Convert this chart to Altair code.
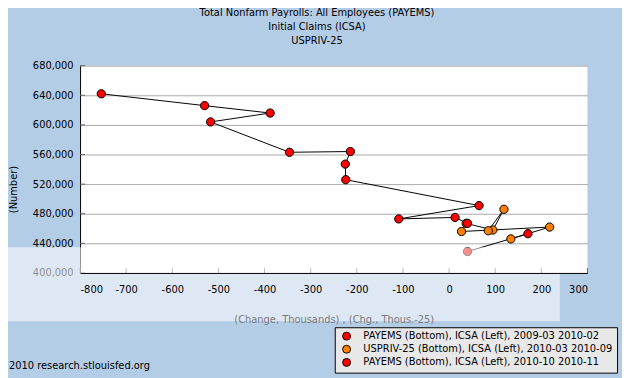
import altair as alt
import pandas as pd

# ---- data ----
s1_label = "PAYEMS (Bottom), ICSA (Left), 2009-03 2010-02"
s1_x = [-754, -530, -388, -517, -346, -214, -225, -224, 65, -109, 13, 40]
s1_y = [642000, 626000, 616000, 604000, 563000, 564000, 547000, 526000, 491000, 473000, 475000, 467000]

s2_label = "USPRIV-25 (Bottom), ICSA (Left), 2010-03 2010-09"
s2_x = [134, 218, 27, 37, 95, 119, 85]
s2_y = [446000, 462000, 456000, 467000, 458000, 486000, 457000]

s3_label = "PAYEMS (Bottom), ICSA (Left), 2010-10 2010-11"
s3_x = [171, 40]
s3_y = [453000, 429000]

x_ticks = [-800, -700, -600, -500, -400, -300, -200, -100, 0, 100, 200, 300]
y_ticks = [400000, 440000, 480000, 520000, 560000, 600000, 640000, 680000]

title_lines = ["Total Nonfarm Payrolls: All Employees (PAYEMS)", "Initial Claims (ICSA)", "USPRIV-25"]
x_title = "(Change, Thousands) , (Chg., Thous.-25)"
y_title = "(Number)"
footer = ["2010 research.stlouisfed.org"]

labels = [s1_label, s2_label, s3_label]
colors = ["#FF0000", "#FF7F00", "#FF0000"]

rows = []
for lab, xs_, ys_ in [(s1_label, s1_x, s1_y), (s2_label, s2_x, s2_y), (s3_label, s3_x, s3_y)]:
    for i, (a, b) in enumerate(zip(xs_, ys_)):
        rows.append({"series": lab, "x": a, "y": b, "idx": i})
df = pd.DataFrame(rows)

W, H = 514, 210

xs = alt.Scale(domain=[-800, 300], nice=False, zero=False)
ys = alt.Scale(domain=[400000, 680000], nice=False, zero=False)

x_axis = alt.Axis(values=x_ticks, labelExpr="'' + datum.value", grid=False, ticks=False,
                  domainColor="black", labelColor="black", labelFontSize=10,
                  labelPadding=12, labelOverlap=False, title=x_title,
                  titleColor="#7A7A7A", titleFontSize=10, titleFontWeight="normal",
                  titlePadding=20, zindex=1)
y_axis = alt.Axis(values=y_ticks, format=",d", grid=True, gridColor="#A8A8A8",
                  ticks=False, domainColor="black", labelColor="black",
                  labelFontSize=10, labelPadding=7, labelOverlap=False,
                  labelBound=False, labelFlush=False,
                  title=y_title, titleColor="black", titleFontSize=10,
                  titleFontWeight="normal", titleX=-67, titleY=125, titleAngle=270,
                  titleBaseline="middle", titleAlign="center")

base = alt.Chart(df)

lines = base.mark_line(color="black", strokeWidth=1).encode(
    x=alt.X("x:Q", scale=xs, axis=x_axis),
    y=alt.Y("y:Q", scale=ys, axis=y_axis),
    detail="series:N",
    order="idx:Q",
)

points = base.mark_circle(size=70, stroke="black", strokeWidth=1, opacity=1).encode(
    x=alt.X("x:Q", scale=xs, axis=x_axis),
    y=alt.Y("y:Q", scale=ys, axis=y_axis),
    color=alt.Color("series:N", scale=alt.Scale(domain=labels, range=colors),
                    legend=alt.Legend(orient="none", legendX=258, legendY=265, title=None,
                                      fillColor="#E8E8E8", strokeColor="black", padding=4,
                                      labelFontSize=10, labelColor="black", labelLimit=400,
                                      symbolSize=64, symbolType="circle",
                                      symbolStrokeColor="black", symbolStrokeWidth=1,
                                      symbolOpacity=1, symbolOffset=3, labelOffset=12,
                                      rowPadding=1.3)),
    order="idx:Q",
)

tick_x = pd.DataFrame({"x": x_ticks})
tick_y = pd.DataFrame({"y": y_ticks})

xt = alt.Chart(tick_x).mark_rule(color="#666666").encode(
    x=alt.X("x:Q", scale=xs, axis=x_axis), y=alt.value(H), y2=alt.value(H - 5))
yt = alt.Chart(tick_y).mark_rule(color="#666666").encode(
    y=alt.Y("y:Q", scale=ys, axis=y_axis), x=alt.value(0), x2=alt.value(5))

band = alt.Chart(pd.DataFrame({"b": [0]})).mark_rect(color="white", opacity=0.55).encode(
    x=alt.value(-73), x2=alt.value(486), y=alt.value(184), y2=alt.value(259))

foot = alt.Chart(pd.DataFrame({"t": footer})).mark_text(
    align="left", baseline="middle", fontSize=10, color="black").encode(
    x=alt.value(-72), y=alt.value(304), text="t:N")

chart = alt.layer(lines, xt, yt, points, band, foot).properties(
    width=W, height=H,
    title=alt.TitleParams(text=title_lines, anchor="middle", frame="group", dx=-17,
                          fontSize=10, fontWeight="normal", color="black", lineHeight=14,
                          offset=15),
    autosize=alt.AutoSizeParams(type="none"),
    padding={"left": 73, "top": 56, "right": 35, "bottom": 104},
    background="#B4CDE6",
).configure(font="DejaVu Sans").configure_view(fill="white", stroke=None
).configure_axis(labelOverlap=False)

chart.save("out.html", embed_options={"renderer": "svg", "actions": False})
